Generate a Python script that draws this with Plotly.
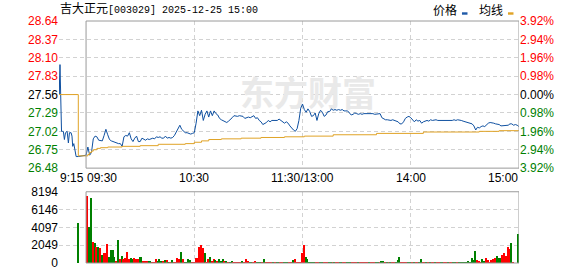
import plotly.graph_objects as go

# ---------------- data ----------------
prev_close = 27.56

# call-auction section (minutes relative to 09:30)
pre_times = [-15.0, -14.9, -14.45, -13.6, -13.0, -12.6, -12.0, -11.4, -10.5, -9.8, -9.2,
             -8.3, -7.8, -7.4, -6.8, -6.1, -5.5, -4.3]
pre_prices = [27.78, 27.56, 28.00, 27.02, 27.02, 27.02, 26.90, 27.00, 27.02, 26.85, 27.00,
              27.00, 26.95, 26.80, 26.84, 26.71, 26.65, 26.65]

minutes = list(range(241))  # 09:30 .. 11:30/13:00 .. 15:00
prices = [
    26.67, 26.79, 26.67, 26.71, 26.91, 26.95, 26.94, 26.89, 26.88, 26.88,
    26.96, 27.05, 26.97, 26.90, 26.88, 26.87, 26.86, 26.84, 26.84, 26.84,
    26.80, 26.94, 26.96, 26.95, 27.00, 26.91, 26.87, 26.92, 26.95, 26.87,
    26.87, 26.92, 26.90, 26.89, 26.91, 26.90, 26.91, 26.92, 26.91, 26.94,
    26.93, 26.94, 26.92, 26.92, 26.95, 26.92, 26.93, 26.92, 26.93, 26.96,
    27.01, 27.07, 27.11, 27.05, 27.02, 27.00, 27.00, 26.99, 26.98, 26.99,
    27.00, 27.14, 27.32, 27.25, 27.33, 27.18, 27.27, 27.32, 27.23, 27.32,
    27.25, 27.32, 27.28, 27.26, 27.21, 27.19, 27.18, 27.17, 27.15, 27.17,
    27.19, 27.22, 27.25, 27.24, 27.24, 27.25, 27.24, 27.24, 27.21, 27.22,
    27.23, 27.22, 27.24, 27.25, 27.21, 27.22, 27.18, 27.16, 27.12, 27.13,
    27.15, 27.18, 27.16, 27.18, 27.18, 27.19, 27.18, 27.20, 27.18, 27.16,
    27.14, 27.16, 27.14, 27.10, 27.06, 27.04, 27.02, 27.06, 27.18, 27.36,
    27.42, 27.34, 27.30, 27.35, 27.31, 27.24, 27.25, 27.29, 27.18, 27.28,
    27.33, 27.30, 27.24, 27.26, 27.31, 27.31, 27.35, 27.33, 27.34, 27.33,
    27.34, 27.33, 27.34, 27.32, 27.32, 27.32, 27.29, 27.26, 27.27, 27.29,
    27.28, 27.27, 27.28, 27.27, 27.28, 27.28, 27.28, 27.29, 27.28, 27.28,
    27.27, 27.27, 27.27, 27.28, 27.22, 27.20, 27.19, 27.19, 27.18, 27.18,
    27.19, 27.18, 27.18, 27.16, 27.13, 27.13, 27.16, 27.21, 27.23, 27.24,
    27.22, 27.19, 27.16, 27.19, 27.17, 27.18, 27.14, 27.16, 27.17, 27.18,
    27.17, 27.19, 27.18, 27.19, 27.19, 27.18, 27.18, 27.17, 27.18, 27.18,
    27.18, 27.18, 27.18, 27.18, 27.19, 27.18, 27.19, 27.19, 27.18, 27.17,
    27.16, 27.16, 27.15, 27.14, 27.13, 27.10, 27.04, 27.08, 27.07, 27.09,
    27.10, 27.09, 27.12, 27.14, 27.15, 27.15, 27.14, 27.13, 27.13, 27.12,
    27.10, 27.10, 27.11, 27.10, 27.11, 27.13, 27.13, 27.11, 27.12, 27.11,
    27.09,
]

avg_times = [-15, -4.3, 0, 1, 2, 3, 4, 6, 8, 12, 20, 30, 40, 55, 60, 64, 68, 75, 86,
             97, 110, 121, 137, 161, 187, 218, 229, 240]
avg_prices = [27.56, 26.66, 26.66, 26.68, 26.71, 26.73, 26.75, 26.77, 26.78, 26.79, 26.80,
              26.81, 26.83, 26.84, 26.86, 26.88, 26.90, 26.91, 26.92, 26.93, 26.94, 26.95,
              26.97, 26.99, 27.01, 27.02, 27.03, 27.03]

volumes = [
    0, 7740, 4210, 7510, 2500, 2350, 1820, 1820, 1710, 910,
    1140, 1140, 2160, 680, 1480, 1480, 680, 300, 2620, 455,
    800, 490, 600, 1250, 455, 600, 490, 570, 490, 490,
    680, 680, 230, 300, 230, 230, 230, 150, 110, 455,
    265, 455, 300, 300, 340, 380, 110, 110, 340, 110,
    110, 600, 490, 1250, 490, 110, 110, 455, 340, 110,
    110, 600, 600, 1820, 2050, 1710, 1140, 110, 490, 680,
    265, 455, 380, 300, 530, 300, 490, 265, 300, 110,
    150, 230, 110, 100, 100, 100, 100, 230, 100, 455,
    230, 100, 100, 100, 230, 100, 100, 100, 100, 455,
    100, 100, 100, 100, 100, 100, 100, 100, 100, 100,
    100, 100, 100, 100, 100, 420, 530, 100, 100, 150,
    1140, 2080, 680, 455, 100, 100, 100, 100, 100, 100,
    100, 100, 100, 100, 100, 100, 100, 100, 100, 100,
    100, 100, 100, 100, 100, 100, 100, 100, 100, 100,
    100, 100, 100, 100, 100, 100, 100, 100, 100, 100,
    100, 100, 100, 100, 265, 230, 100, 100, 100, 100,
    100, 100, 100, 340, 680, 100, 100, 100, 100, 100,
    100, 100, 100, 100, 100, 100, 455, 100, 100, 100,
    100, 100, 100, 100, 100, 100, 100, 100, 100, 100,
    100, 100, 100, 100, 100, 100, 100, 100, 100, 100,
    150, 100, 265, 150, 600, 380, 1365, 340, 230, 150,
    455, 230, 570, 340, 150, 340, 490, 570, 800, 570,
    570, 910, 1140, 800, 1820, 1670, 2275, 60, 0, 0,
    3410,
]
vol_up = [
    1, 1, 0, 0, 1, 0, 1, 0, 1, 0,
    1, 1, 1, 0, 0, 0, 0, 1, 0, 1,
    0, 1, 1, 1, 1, 0, 0, 1, 1, 1,
    0, 0, 1, 1, 1, 0, 0, 1, 1, 1,
    0, 0, 0, 1, 0, 1, 0, 1, 0, 1,
    1, 1, 1, 0, 1, 0, 0, 0, 0, 1,
    1, 1, 1, 1, 1, 1, 0, 1, 1, 0,
    1, 1, 0, 1, 0, 0, 0, 1, 0, 1,
    0, 0, 1, 1, 1, 1, 1, 0, 1, 1,
    1, 0, 0, 1, 1, 0, 0, 0, 1, 0,
    1, 1, 1, 1, 0, 1, 0, 0, 1, 1,
    0, 0, 0, 1, 1, 0, 1, 1, 1, 1,
    1, 1, 0, 0, 0, 0, 0, 0, 1, 1,
    0, 0, 1, 1, 1, 0, 0, 1, 0, 1,
    1, 0, 0, 1, 1, 0, 0, 0, 1, 1,
    1, 0, 1, 1, 1, 1, 1, 0, 1, 1,
    1, 0, 0, 1, 0, 0, 1, 0, 1, 0,
    1, 1, 0, 0, 0, 1, 1, 1, 1, 0,
    0, 1, 0, 1, 1, 0, 0, 1, 1, 0,
    1, 0, 1, 1, 0, 1, 1, 0, 0, 1,
    1, 0, 1, 1, 0, 0, 1, 0, 0, 0,
    0, 0, 0, 0, 0, 0, 0, 1, 1, 1,
    0, 0, 1, 1, 1, 1, 1, 1, 0, 0,
    0, 1, 1, 1, 1, 1, 0, 1, 1, 1,
    0,
]
auction_time = [-4.3]
auction_volume = [4666]

price_ticks = [26.48, 26.75, 27.02, 27.29, 27.56, 27.83, 28.10, 28.37, 28.64]
pct_labels = ["3.92%", "2.94%", "1.96%", "0.98%", "0.00%", "0.98%", "1.96%", "2.94%", "3.92%"]
vol_ticks = [0, 2049, 4097, 6146, 8194]
time_labels = ["9:15", "09:30", "10:30", "11:30/13:00", "14:00", "15:00"]
time_pos = [-15, 0, 60, 120, 180, 240]
time_anchor = ["left", "left", "center", "center", "center", "right"]
title_name = "吉大正元"
title_rest = "[003029] 2025-12-25 15:00"

# ---------------- style ----------------
RED = "#ff0000"
GREEN = "#008000"
BLACK = "#000000"
BLUE_LINE = "#0f50a0"
AVG_LINE = "#e0a326"
GRID = "#d2d2d2"
BORDER = "#9a9a9a"
FONT = "Liberation Sans"


def lab_color(v):
    if abs(v - prev_close) < 1e-9:
        return BLACK
    return RED if v > prev_close else GREEN


left_text = [f'<span style="color:{lab_color(v)}">{v:.2f}</span>' for v in price_ticks]
right_text = [f'<span style="color:{lab_color(v)}">{t}</span>' for v, t in zip(price_ticks, pct_labels)]

fig = go.Figure()

# watermark (drawn first, below the lines)
fig.add_trace(go.Scatter(x=[123], y=[27.52], mode="text", text=["东方财富"],
                         textfont=dict(size=34, color="#e9e9e9", family="Noto Sans CJK SC", weight="bold"),
                         hoverinfo="skip", xaxis="x", yaxis="y"))

fig.add_trace(go.Scatter(x=pre_times + minutes, y=pre_prices + prices, mode="lines",
                         line=dict(color=BLUE_LINE, width=1), xaxis="x", yaxis="y"))
fig.add_trace(go.Scatter(x=avg_times, y=avg_prices, mode="lines",
                         line=dict(color=AVG_LINE, width=1, shape="hv"), xaxis="x", yaxis="y"))
# invisible trace so the right-hand axis is drawn
fig.add_trace(go.Scatter(x=[0], y=[prev_close], mode="markers", marker=dict(opacity=0),
                         xaxis="x", yaxis="y2", hoverinfo="skip"))

fig.add_trace(go.Bar(x=minutes, y=volumes, width=0.6, offset=-0.6,
                     marker=dict(color=[RED if u else GREEN for u in vol_up], line=dict(width=0)),
                     xaxis="x2", yaxis="y3"))
fig.add_trace(go.Bar(x=auction_time, y=auction_volume, width=0.6, offset=-0.3,
                     marker=dict(color=GREEN, line=dict(width=0)), xaxis="x2", yaxis="y3"))

grid_x = dict(range=[-15, 240], tickvals=[-15, 60, 120, 180], showticklabels=False,
              showgrid=True, gridcolor=GRID, griddash="4px,3px", gridwidth=1,
              zeroline=False, showline=False, ticks="", fixedrange=True)

fig.update_layout(
    width=578, height=276,
    margin=dict(l=59, r=59, t=21, b=6),
    paper_bgcolor="white", plot_bgcolor="white",
    showlegend=False, bargap=0,
    font=dict(family=FONT, size=12, color=BLACK),
    xaxis=dict(domain=[0, 1], anchor="y", **grid_x),
    xaxis2=dict(domain=[0, 1], anchor="y3", **grid_x),
    yaxis=dict(domain=[0.392, 1], range=[price_ticks[0], price_ticks[-1]], tickvals=price_ticks,
               ticktext=left_text, showgrid=True, gridcolor=GRID, griddash="4px,3px",
               zeroline=False, ticks="", tickfont=dict(family=FONT, size=12)),
    yaxis2=dict(overlaying="y", side="right", anchor="x", range=[price_ticks[0], price_ticks[-1]],
                tickvals=price_ticks, ticktext=right_text, showgrid=False, zeroline=False,
                ticks="", tickfont=dict(family=FONT, size=12)),
    yaxis3=dict(domain=[0, 0.2944], anchor="x2", range=[vol_ticks[0], vol_ticks[-1]],
                tickvals=vol_ticks, ticktext=[str(v) for v in vol_ticks],
                showgrid=True, gridcolor=GRID, griddash="4px,3px", zeroline=False, ticks="",
                tickfont=dict(family=FONT, size=12, color=BLACK)),
)

shapes = [
    dict(type="rect", xref="x", yref="y domain", x0=0, x1=240, y0=0, y1=1,
         line=dict(color=BORDER, width=1), layer="above"),
    dict(type="rect", xref="x2", yref="y3 domain", x0=0, x1=240, y0=0, y1=1,
         line=dict(color=BORDER, width=1), layer="above"),
    # legend swatches
    dict(type="rect", xref="paper", yref="paper", x0=0.876, x1=0.888, y0=1.026, y1=1.036,
         fillcolor="#1f5aa8", line=dict(width=0)),
    dict(type="rect", xref="paper", yref="paper", x0=0.976, x1=0.988, y0=1.026, y1=1.036,
         fillcolor=AVG_LINE, line=dict(width=0)),
]
fig.update_layout(shapes=shapes)

annotations = [
    dict(xref="paper", yref="paper", x=-0.002, y=1.048, xanchor="left", yanchor="middle",
         showarrow=False,
         text=f'<span style="font-size:12px">{title_name}</span>{title_rest}',
         font=dict(family="Liberation Mono, Noto Sans CJK SC", size=10, color=BLACK)),
    dict(xref="paper", yref="paper", x=0.808, y=1.048, xanchor="left", yanchor="middle",
         showarrow=False, text="价格", font=dict(family="Noto Sans CJK SC", size=12, color=BLACK)),
    dict(xref="paper", yref="paper", x=0.908, y=1.048, xanchor="left", yanchor="middle",
         showarrow=False, text="均线", font=dict(family="Noto Sans CJK SC", size=12, color=BLACK)),
]
for lab, pos, anc in zip(time_labels, time_pos, time_anchor):
    annotations.append(dict(xref="x", yref="paper", x=pos, y=0.353, xanchor=anc, yanchor="middle",
                            showarrow=False, text=lab, borderpad=0,
                            font=dict(family=FONT, size=12, color=BLACK)))
fig.update_layout(annotations=annotations)

fig.write_html("out.html")
